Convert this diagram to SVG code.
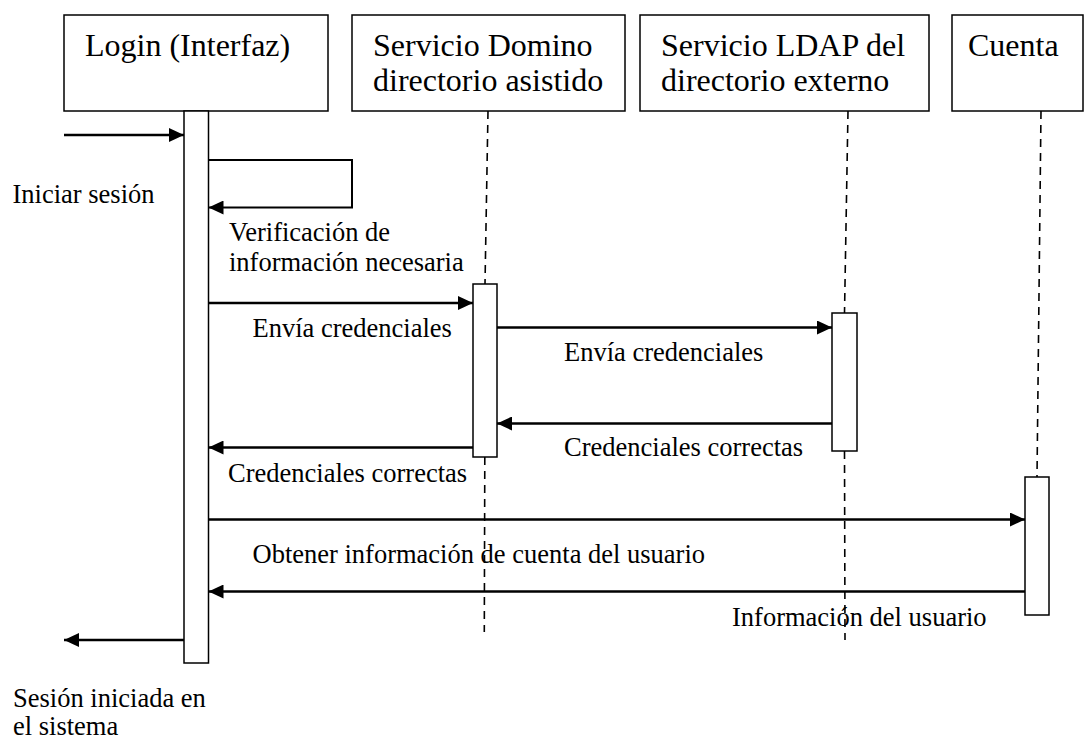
<svg xmlns="http://www.w3.org/2000/svg" width="1085" height="740" viewBox="0 0 1085 740">
<style>
.box{fill:#fff;stroke:#000;stroke-width:1.5}
.bar{fill:#fff;stroke:#000;stroke-width:1.5}
.life{fill:none;stroke:#000;stroke-width:1.6;stroke-dasharray:8 6}
.msg{fill:none;stroke:#000;stroke-width:2.5}
.hd{font-family:"Liberation Serif","Times New Roman",serif;font-size:32px;fill:#000}
.lb{font-family:"Liberation Serif","Times New Roman",serif;font-size:26.5px;fill:#000}
</style>
<defs>
<marker id="ah" markerUnits="userSpaceOnUse" markerWidth="16" markerHeight="14" refX="15" refY="7" orient="auto">
<path d="M0,0 L15,7 L0,14 z" fill="#000"/>
</marker>
</defs>
<rect width="1085" height="740" fill="#fff"/>
<g id="lifelines">
<path class="life" d="M488,111 L485,284"/>
<path class="life" d="M484.8,457 L484.3,632"/>
<path class="life" d="M848,111 L844.5,313"/>
<path class="life" d="M844.5,451 L845,640"/>
<path class="life" d="M1041,111 L1037,477"/>
</g>
<g id="login">
<rect class="box" x="64" y="15" width="264" height="96"/>
<text class="hd" x="85" y="56">Login (Interfaz)</text>
<rect class="bar" x="184" y="111" width="24.5" height="552"/>
</g>
<g id="domino">
<rect class="box" x="352" y="15" width="273" height="96"/>
<text class="hd" x="373" y="56">Servicio Domino</text>
<text class="hd" x="373" y="91">directorio asistido</text>
<rect class="bar" x="473" y="284" width="24" height="173"/>
</g>
<g id="ldap">
<rect class="box" x="640" y="15" width="289" height="96"/>
<text class="hd" x="661" y="56">Servicio LDAP del</text>
<text class="hd" x="661" y="91">directorio externo</text>
<rect class="bar" x="832" y="313" width="25" height="138"/>
</g>
<g id="cuenta">
<rect class="box" x="952" y="15" width="131" height="96"/>
<text class="hd" x="968" y="56">Cuenta</text>
<rect class="bar" x="1025" y="477" width="24" height="138"/>
</g>
<g id="connectors">
<line class="msg" x1="64" y1="135" x2="184" y2="135" marker-end="url(#ah)"/>
<path class="msg" style="stroke-width:2" d="M208.5,160 L352,160 L352,207.5 L208.5,207.5" marker-end="url(#ah)"/>
<line class="msg" x1="208.5" y1="303" x2="473" y2="303" marker-end="url(#ah)"/>
<line class="msg" x1="497" y1="327.5" x2="832" y2="327.5" marker-end="url(#ah)"/>
<line class="msg" x1="832" y1="423.5" x2="497" y2="423.5" marker-end="url(#ah)"/>
<line class="msg" x1="473" y1="447.5" x2="208.5" y2="447.5" marker-end="url(#ah)"/>
<line class="msg" x1="208.5" y1="519.5" x2="1025" y2="519.5" marker-end="url(#ah)"/>
<line class="msg" x1="1025" y1="591.5" x2="208.5" y2="591.5" marker-end="url(#ah)"/>
<line class="msg" x1="184" y1="640" x2="64" y2="640" marker-end="url(#ah)"/>
</g>
<g id="labels">
<text class="lb" x="12.5" y="203">Iniciar sesión</text>
<text class="lb" x="229" y="241">Verificación de</text>
<text class="lb" x="229" y="271">información necesaria</text>
<text class="lb" x="252.5" y="337">Envía credenciales</text>
<text class="lb" x="564" y="361">Envía credenciales</text>
<text class="lb" x="564" y="456">Credenciales correctas</text>
<text class="lb" x="228" y="482">Credenciales correctas</text>
<text class="lb" x="252.5" y="563">Obtener información de cuenta del usuario</text>
<text class="lb" x="732" y="626">Información del usuario</text>
<text class="lb" x="13" y="707">Sesión iniciada en</text>
<text class="lb" x="13" y="735">el sistema</text>
</g>
</svg>
